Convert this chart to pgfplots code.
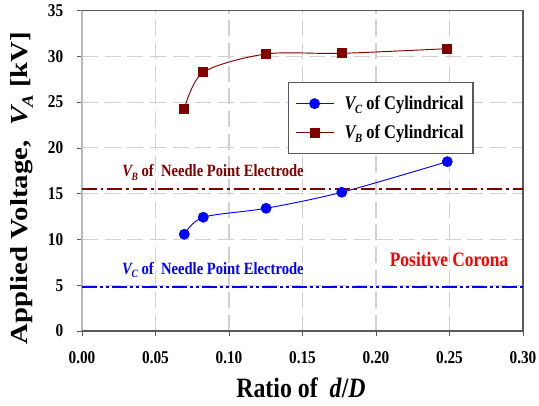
\documentclass[border=0pt]{standalone}
\usepackage{graphicx}
\usepackage{pgfplots}
\pgfplotsset{compat=1.18}
\usepackage{fontspec}
\setmainfont{Liberation Serif}
\definecolor{maroon}{RGB}{128,0,0}
\definecolor{myblue}{RGB}{0,0,255}
\definecolor{gridgray}{RGB}{208,208,208}
\newcommand{\hs}[1]{\scalebox{0.85}[1]{#1}}
\newcommand{\vs}[1]{\scalebox{1}[0.85]{#1}}
\newcommand{\sub}[2]{\textit{#1}\kern-0.1em\raisebox{-0.45ex}{\fontsize{0.65em}{0.7em}\selectfont\textit{#2}}}
\pgfplotsset{longlegend/.style={legend image code/.code={\draw[mark repeat=2,mark phase=2] plot coordinates {(0cm,0cm) (0.5cm,0cm) (1cm,0cm)};}}}
\begin{document}
\begin{tikzpicture}
\useasboundingbox (-61.5pt,-55.5pt) rectangle (342.75pt,248.25pt);
\begin{axis}[
  scale only axis,
  width=330.75pt, height=240.4pt,
  xmin=0, xmax=0.30, ymin=0, ymax=35,
  xtick={0,0.05,...,0.30}, ytick={0,5,...,35},
  xtick pos=left, ytick pos=left,
  xticklabel={\hs{\pgfmathprintnumber[assume math mode=true,fixed,fixed zerofill,precision=2]{\tick}}},
  yticklabel={\hs{\pgfmathprintnumber[assume math mode=true]{\tick}}},
  ticklabel style={font=\fontsize{13.5}{15}\selectfont\bfseries},
  xticklabel style={yshift=-8pt},
  yticklabel style={xshift=-6.5pt},
  scaled x ticks=false,
  tick align=outside,
  tick style={gray!70!black, thin},
  major tick length=4pt,
  axis line style={draw=none},
  grid=major,
  major grid style={gridgray, dash pattern=on 12pt off 5pt, line width=0.8pt},
  xlabel={\hs{\fontsize{21}{24}\selectfont\bfseries Ratio of \ \textit{d}/\textit{D}}},
  ylabel={\vs{\fontsize{21.6}{24}\selectfont\bfseries Applied Voltage, \ \sub{V}{A} [kV]}},
  every axis x label/.style={at={(axis description cs:0.4966,-0.2059)}, anchor=base},
  every axis y label/.style={at={(axis description cs:-0.136,0.446)}, anchor=center, rotate=90},
  legend style={at={(0.467,0.777)}, anchor=north west, draw=gray!70!black, line width=0.8pt, fill=white,
    font=\fontsize{14.5}{16}\selectfont\bfseries, inner xsep=5pt, inner ysep=8pt, row sep=6pt,
    legend cell align=left},
  clip=false,
]
\draw[gray!55, line width=1.3pt] (rel axis cs:0,0) -- (rel axis cs:0,1);
\draw[gray!70!black, line width=0.9pt] (rel axis cs:0,0) -- (rel axis cs:1,0) -- (rel axis cs:1,1) -- (rel axis cs:0,1);
\addplot[longlegend, myblue, line width=0.7pt, smooth, tension=0.5, mark=*, mark size=3.7pt, mark options={fill=myblue, draw=myblue}]
 coordinates {(0.0696,10.56) (0.0825,12.42) (0.1252,13.40) (0.1767,15.15) (0.2485,18.49)};
\addlegendentry{\hspace{6pt}\hs{\sub{V}{C} of Cylindrical}\hspace{11pt}}
\addplot[longlegend, maroon, line width=0.7pt, smooth, tension=0.5, mark=square*, mark size=3.4pt, mark options={fill=maroon, draw=maroon}]
 coordinates {(0.0696,24.24) (0.0825,28.25) (0.1252,30.25) (0.1767,30.32) (0.2485,30.83)};
\addlegendentry{\hspace{6pt}\hs{\sub{V}{B} of Cylindrical}\hspace{11pt}}
\addplot[maroon, line width=1.6pt, dash pattern=on 11pt off 3pt on 2pt off 3pt, forget plot]
 coordinates {(0,15.47) (0.30,15.47)};
\addplot[myblue, line width=1.6pt, dash pattern=on 11pt off 2.5pt on 2pt off 2.5pt on 2pt off 2.5pt, forget plot]
 coordinates {(0,4.84) (0.30,4.84)};
\node[text=maroon, anchor=base, font=\fontsize{12.9}{14}\selectfont\bfseries] at (axis cs:0.0891,16.87) {\hs{\sub{V}{B} of \ Needle Point Electrode}};
\node[text=myblue, anchor=base, font=\fontsize{12.9}{14}\selectfont\bfseries] at (axis cs:0.0891,6.2) {\hs{\sub{V}{C} of \ Needle Point Electrode}};
\node[text=red, anchor=base, font=\fontsize{15.4}{17}\selectfont\bfseries] at (axis cs:0.2497,7.04) {\hs{Positive Corona}};
\end{axis}
\end{tikzpicture}
\end{document}
